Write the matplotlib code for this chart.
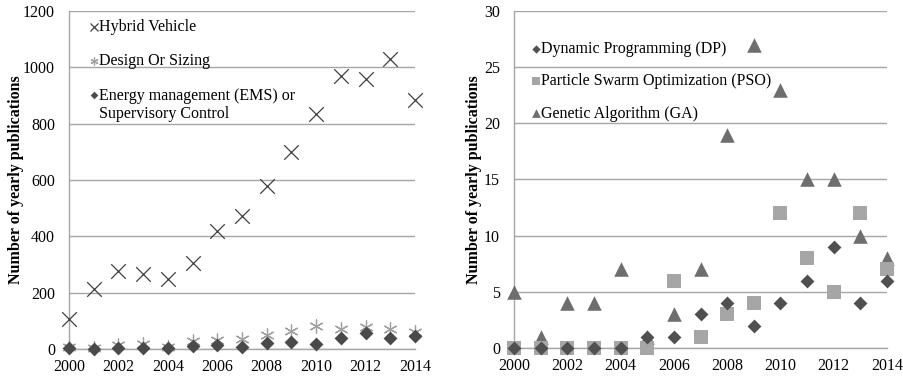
import numpy as np
import matplotlib.pyplot as plt
from matplotlib.legend_handler import HandlerPathCollection

# ----------------------------------------------------------------------
# DATA
years = list(range(2000, 2015))

hybrid = [108, 213, 277, 266, 249, 305, 420, 473, 579, 700, 836, 968, 957, 1030, 884]
design = [8, 3, 14, 18, 8, 28, 32, 35, 50, 64, 83, 71, 79, 70, 62]
ems = [2, 1, 2, 3, 3, 12, 15, 8, 20, 26, 17, 40, 58, 38, 47]

dp = [0, 0, 0, 0, 0, 1, 1, 3, 4, 2, 4, 6, 9, 4, 6]
pso = [0, 0, 0, 0, 0, 0, 6, 1, 3, 4, 12, 8, 5, 12, 7]
ga = [5, 1, 4, 4, 7, 1, 3, 7, 19, 27, 23, 15, 15, 10, 8]

left_labels = ['Hybrid Vehicle', 'Design Or Sizing',
               'Energy management (EMS) or\nSupervisory Control']
right_labels = ['Dynamic Programming (DP)', 'Particle Swarm Optimization (PSO)',
                'Genetic Algorithm (GA)']
ylabel = 'Number of yearly publications'

# ----------------------------------------------------------------------
# STYLE
plt.rcParams['font.family'] = ['Liberation Serif', 'DejaVu Serif']
plt.rcParams['font.size'] = 11.5
grid_col = '#a6a6a6'


def style_axes(ax, ymax, ystep):
    ax.set_xlim(2000, 2014)
    ax.set_ylim(0, ymax)
    ax.set_xticks(range(2000, 2015, 2))
    ax.set_yticks(np.arange(0, ymax + 1, ystep))
    ax.yaxis.grid(True, color=grid_col, linewidth=1)
    ax.set_axisbelow(True)
    for s in ['top', 'right']:
        ax.spines[s].set_visible(False)
    for s in ['left', 'bottom']:
        ax.spines[s].set_color(grid_col)
        ax.spines[s].set_linewidth(1)
    ax.tick_params(axis='x', length=0, pad=7, labelsize=11.5)
    ax.tick_params(axis='y', length=0, pad=10, labelsize=11.5)
    ax.set_ylabel(ylabel, fontweight='bold', fontsize=11.5)


fig = plt.figure(figsize=(9.04, 3.8), dpi=100)
ax1 = fig.add_axes([0.0763, 0.0816, 0.3827, 0.8895])
ax2 = fig.add_axes([0.5686, 0.0842, 0.4126, 0.8869])

# left chart
ax1.scatter(years, hybrid, marker='x', s=110, color='#404040', linewidths=0.9,
            label=left_labels[0], clip_on=False, zorder=3)
ax1.scatter(years, design, marker=(6, 2, 0), s=90, color='#a0a0a0', linewidths=0.9,
            label=left_labels[1], clip_on=False, zorder=3)
sc_ems = ax1.scatter(years, ems, marker='D', s=50, color='#4a4a4a', linewidths=0,
                     label=left_labels[2], clip_on=False, zorder=4)
style_axes(ax1, 1200, 200)
ax1.yaxis.set_label_coords(-0.13, 0.5)
# two-line entry: keep the diamond level with the first line
leg1 = ax1.legend(loc='upper left', bbox_to_anchor=(0.03, 0.995), frameon=False,
                  labelspacing=1.15, handletextpad=-0.2, handlelength=1.0,
                  markerscale=0.55, borderaxespad=0,
                  handler_map={sc_ems: HandlerPathCollection(yoffsets=[1.45])})

# right chart
ax2.scatter(years, dp, marker='D', s=50, color='#505050', linewidths=0,
            label=right_labels[0], clip_on=False, zorder=5)
ax2.scatter(years, pso, marker='s', s=90, color='#a6a6a6', linewidths=0,
            label=right_labels[1], clip_on=False, zorder=4)
ax2.scatter(years, ga, marker='^', s=110, color='#6e6e6e', linewidths=0,
            label=right_labels[2], clip_on=False, zorder=3)
style_axes(ax2, 30, 5)
ax2.yaxis.set_label_coords(-0.085, 0.5)
leg2 = ax2.legend(loc='upper left', bbox_to_anchor=(0.02, 0.93), frameon=False,
                  labelspacing=1.02, handletextpad=-0.2, handlelength=1.0,
                  markerscale=0.6, borderaxespad=0)

fig.savefig('out.png', dpi=100)
